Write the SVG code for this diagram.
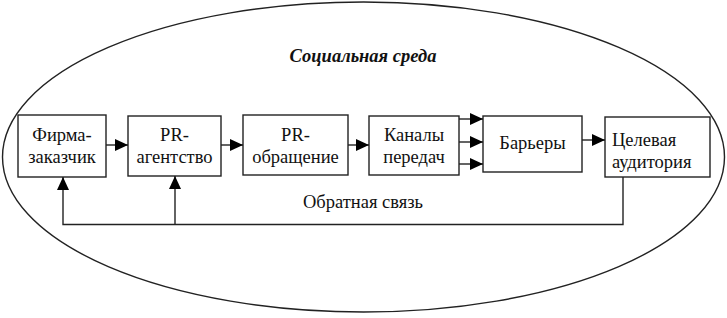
<svg xmlns="http://www.w3.org/2000/svg" width="727" height="318" viewBox="0 0 727 318">
<style>
.box{fill:#fff;stroke:#222;stroke-width:1.4}
.t{font-family:"Liberation Serif",serif;font-size:18.5px;fill:#111}
.c{stroke:#222;stroke-width:1.4;fill:none}
</style>
<defs>
<marker id="ah" markerWidth="13" markerHeight="12" refX="13" refY="6" orient="auto" markerUnits="userSpaceOnUse">
<path d="M0,0 L13,6 L0,12 Z" fill="#000"/>
</marker>
</defs>
<rect width="727" height="318" fill="#fff"/>
<g id="env">
<ellipse cx="363.5" cy="157" rx="361" ry="155" fill="none" stroke="#222" stroke-width="1.4"/>
<text x="363" y="62" class="t" font-weight="bold" font-style="italic" text-anchor="middle">Социальная среда</text>
</g>
<g id="n1"><rect class="box" x="18" y="115" width="88" height="62"/>
<text class="t" text-anchor="middle" x="62" y="141">Фирма-</text><text class="t" text-anchor="middle" x="62" y="163">заказчик</text></g>
<g id="n2"><rect class="box" x="128" y="116" width="93" height="60"/>
<text class="t" text-anchor="middle" x="174.5" y="141">PR-</text><text class="t" text-anchor="middle" x="174.5" y="163">агентство</text></g>
<g id="n3"><rect class="box" x="243" y="115" width="105" height="60"/>
<text class="t" text-anchor="middle" x="295.5" y="141">PR-</text><text class="t" text-anchor="middle" x="295.5" y="163">обращение</text></g>
<g id="n4"><rect class="box" x="369" y="116" width="90" height="59"/>
<text class="t" text-anchor="middle" x="414" y="141">Каналы</text><text class="t" text-anchor="middle" x="414" y="163">передач</text></g>
<g id="n5"><rect class="box" x="483" y="116" width="99" height="56"/>
<text class="t" text-anchor="middle" x="532.5" y="149">Барьеры</text></g>
<g id="n6"><rect class="box" x="605" y="117" width="105" height="60"/>
<text class="t" x="612" y="146">Целевая</text><text class="t" x="612" y="168">аудитория</text></g>
<g id="connectors">
<line class="c" x1="106" y1="145" x2="128" y2="145" marker-end="url(#ah)"/>
<line class="c" x1="221" y1="145" x2="243" y2="145" marker-end="url(#ah)"/>
<line class="c" x1="348" y1="145" x2="369" y2="145" marker-end="url(#ah)"/>
<line class="c" x1="459" y1="119" x2="483" y2="119" marker-end="url(#ah)"/>
<line class="c" x1="459" y1="142" x2="483" y2="142" marker-end="url(#ah)"/>
<line class="c" x1="459" y1="164" x2="483" y2="164" marker-end="url(#ah)"/>
<line class="c" x1="582" y1="140" x2="605" y2="140" marker-end="url(#ah)"/>
<polyline class="c" points="623,177 623,224.5 63,224.5 63,177" marker-end="url(#ah)"/>
<line class="c" x1="175" y1="224.5" x2="175" y2="176" marker-end="url(#ah)"/>
<text class="t" text-anchor="middle" x="363" y="208">Обратная связь</text>
</g>
</svg>
